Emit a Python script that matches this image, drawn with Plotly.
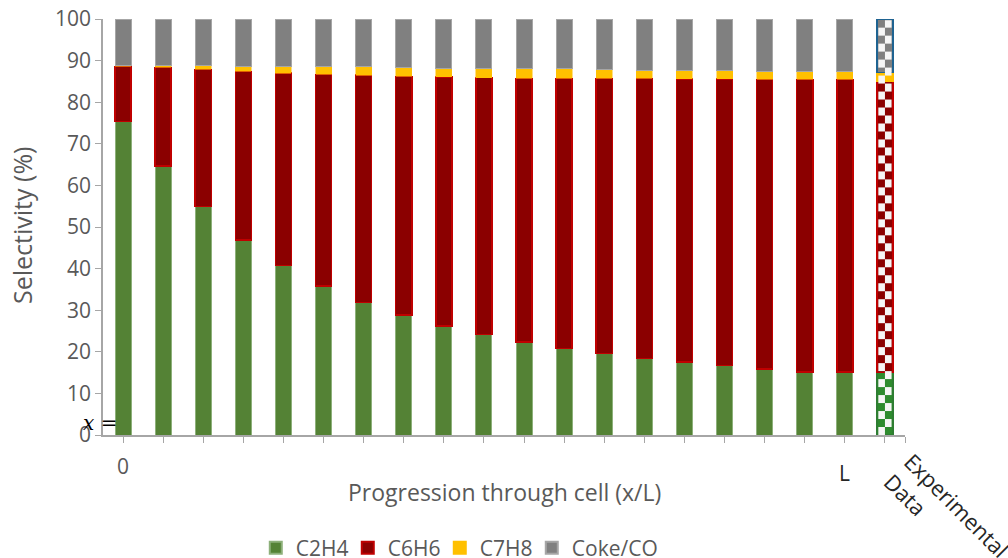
import plotly.graph_objects as go

# ---- data ----
positions = list(range(19))  # model points through the cell, 0 .. L
c2h4 = [75.4, 64.7, 54.9, 46.9, 40.7, 35.8, 31.9, 28.8, 26.2, 24.2, 22.4, 20.8, 19.6, 18.4, 17.5, 16.7, 15.9, 15.2, 15.2]
c6h6 = [13.2, 23.7, 33.0, 40.5, 46.3, 50.9, 54.6, 57.4, 59.9, 61.7, 63.3, 64.9, 66.1, 67.3, 68.1, 68.9, 69.6, 70.3, 70.3]
c7h8 = [0.3, 0.5, 0.9, 1.3, 1.5, 1.8, 2.0, 2.2, 2.1, 2.2, 2.3, 2.3, 2.1, 2.0, 2.1, 2.0, 2.0, 2.0, 2.0]
coke = [11.1, 11.1, 11.2, 11.3, 11.5, 11.5, 11.5, 11.6, 11.8, 11.9, 12.0, 12.0, 12.2, 12.3, 12.3, 12.4, 12.5, 12.5, 12.5]

exp_pos = 19
exp_values = {"C2H4": 15.0, "C6H6": 70.0, "C7H8": 2.2, "Coke/CO": 12.8}

series_names = ["C2H4", "C6H6", "C7H8", "Coke/CO"]
series_vals = [c2h4, c6h6, c7h8, coke]
fill_colors = ["#548235", "#8B0000", "#FFC000", "#808080"]
line_colors = ["#8DB07A", "#C00000", "#FFC000", "#A6A6A6"]
line_widths = [1, 1.5, 0.5, 1]
exp_fill = ["#2E8B2E", "#8B0000", "#FFC000", "#808080"]
exp_line = ["#2E7D32", "#C00000", "#FFC000", "#1F6391"]

FONT = "Open Sans"
TXT = "#595959"
BAR_W = 0.4

fig = go.Figure()
for name, vals, fc, lc, lw in zip(series_names, series_vals, fill_colors, line_colors, line_widths):
    fig.add_trace(go.Bar(x=positions, y=vals, name=name, width=BAR_W,
                         marker=dict(color=fc, line=dict(color=lc, width=lw))))
for name, fc, lc in zip(series_names, exp_fill, exp_line):
    fig.add_trace(go.Bar(x=[exp_pos], y=[exp_values[name]], name=name, width=BAR_W,
                         showlegend=False,
                         marker=dict(color=fc, line=dict(color=lc, width=1.5))))
# invisible spacer entry so the last legend label is not clipped
fig.add_trace(go.Bar(x=[None], y=[None], name=" ", showlegend=True, hoverinfo="skip",
                     marker=dict(color="rgba(0,0,0,0)", line=dict(width=0))))

# checkerboard texture on the experimental bar
total = sum(exp_values.values())
cell_h = 1.92
half = BAR_W / 2
inset = 0.035
shapes = []
r = 0
while r * cell_h < total:
    y0 = r * cell_h
    y1 = min((r + 1) * cell_h, total - 0.3)
    if r % 2 == 0:
        x0, x1 = exp_pos - half + inset, exp_pos
    else:
        x0, x1 = exp_pos, exp_pos + half - inset
    if y1 > y0:
        shapes.append(dict(type="rect", xref="x", yref="y", x0=x0, x1=x1, y0=y0, y1=y1,
                           fillcolor="#F6F6F6", line=dict(width=0), layer="above"))
    r += 1

annotations = [
    dict(text="Selectivity (%)", xref="paper", yref="paper", x=0, y=0.5, xshift=-81, yshift=1,
         textangle=-90, showarrow=False, font=dict(family=FONT, size=25, color=TXT),
         xanchor="center", yanchor="middle"),
    dict(text="Progression through cell (x/L)", xref="paper", yref="paper", x=0.5, y=0,
         yshift=-57, showarrow=False, font=dict(family=FONT, size=23, color=TXT),
         xanchor="center", yanchor="middle"),
    dict(text="0", xref="x", yref="paper", x=positions[0], y=0, yshift=-31, showarrow=False,
         font=dict(family=FONT, size=21, color=TXT), xanchor="center", yanchor="middle"),
    dict(text="L", xref="x", yref="paper", x=positions[-1], y=0, yshift=-38, showarrow=False,
         font=dict(family=FONT, size=21, color="#262626"), xanchor="center", yanchor="middle"),
    dict(text="Experimental<br>Data", xref="x", yref="paper", x=exp_pos, y=0, xshift=62, yshift=-80,
         textangle=45, align="left", showarrow=False,
         font=dict(family=FONT, size=22, color="#262626"), xanchor="center", yanchor="middle"),
    dict(text="𝑥 =", xref="paper", yref="paper", x=0, y=0, xshift=-3, yshift=12, showarrow=False,
         font=dict(family="DejaVu Serif", size=20, color="#000000"), xanchor="center", yanchor="middle"),
]

fig.update_layout(
    width=1008, height=558,
    margin=dict(l=103, r=103, t=19, b=123, autoexpand=False),
    paper_bgcolor="white", plot_bgcolor="white",
    barmode="stack",
    font=dict(family=FONT, size=21, color=TXT),
    legend=dict(orientation="h", x=0.1905, xanchor="left", y=-0.272, yanchor="middle",
                itemsizing="constant", traceorder="normal",
                entrywidth=47, entrywidthmode="pixels",
                font=dict(family=FONT, size=21, color=TXT), itemwidth=30),
    shapes=shapes,
    annotations=annotations,
    showlegend=True,
)
fig.update_xaxes(range=[-0.5, 19.5], tickvals=list(range(20)) + [19.5], showticklabels=False,
                 ticks="outside", ticklen=6, tickcolor="#A6A6A6", showline=True,
                 linecolor="#A6A6A6", linewidth=1.5, showgrid=False, zeroline=False)
fig.update_yaxes(range=[0, 100], tickvals=list(range(0, 101, 10)), ticks="outside", ticklen=6,
                 tickcolor="#A6A6A6", showline=True, linecolor="#A6A6A6", linewidth=1.5,
                 showgrid=False, zeroline=False, tickfont=dict(family=FONT, size=21, color=TXT))

fig.write_html("out.html")
